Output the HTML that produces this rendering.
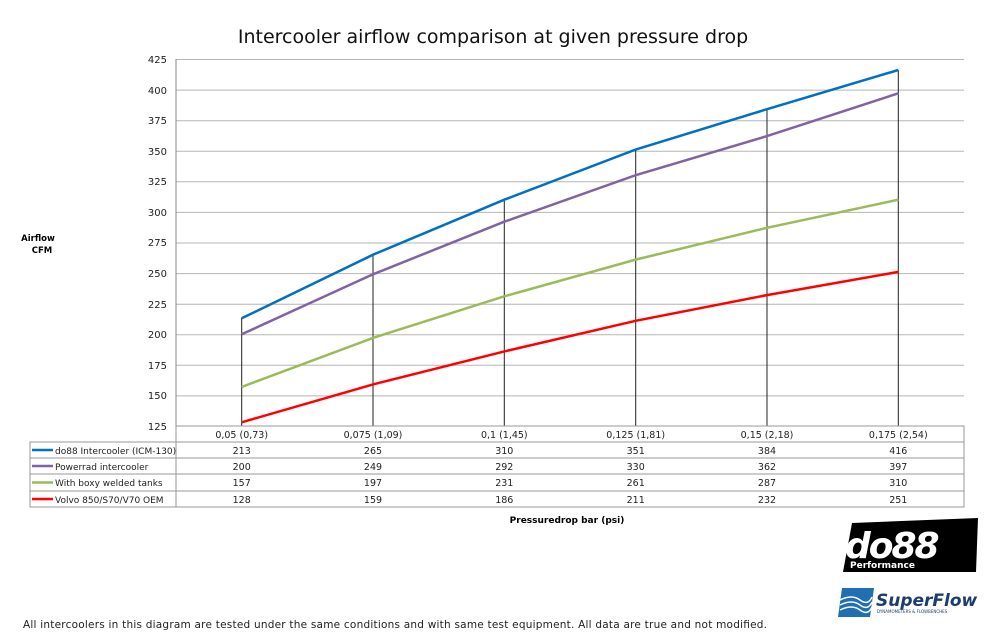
<!DOCTYPE html>
<html><head><meta charset="utf-8"><style>body{margin:0;background:#fff}svg{display:block}text{font-family:"DejaVu Sans","Liberation Sans",sans-serif}</style></head><body>
<svg width="1000" height="643" viewBox="0 0 1000 643" xmlns="http://www.w3.org/2000/svg">
<text x="493" y="43" font-size="19" text-anchor="middle" fill="#111">Intercooler airflow comparison at given pressure drop</text>
<g stroke="#b5b5b5" stroke-width="1">
<line x1="176" x2="964" y1="59.5" y2="59.5"/><line x1="176" x2="964" y1="90.1" y2="90.1"/><line x1="176" x2="964" y1="120.7" y2="120.7"/><line x1="176" x2="964" y1="151.2" y2="151.2"/><line x1="176" x2="964" y1="181.8" y2="181.8"/><line x1="176" x2="964" y1="212.4" y2="212.4"/><line x1="176" x2="964" y1="243" y2="243"/><line x1="176" x2="964" y1="273.6" y2="273.6"/><line x1="176" x2="964" y1="304.2" y2="304.2"/><line x1="176" x2="964" y1="334.7" y2="334.7"/><line x1="176" x2="964" y1="365.3" y2="365.3"/><line x1="176" x2="964" y1="395.9" y2="395.9"/>
</g>
<line x1="176" x2="176" y1="59" y2="426" stroke="#888"/>
<line x1="176" x2="964" y1="426" y2="426" stroke="#888"/>
<g font-size="10" text-anchor="end" fill="#222">
<text x="167" y="63">425</text><text x="167" y="94">400</text><text x="167" y="124">375</text><text x="167" y="155">350</text><text x="167" y="185">325</text><text x="167" y="216">300</text><text x="167" y="246">275</text><text x="167" y="277">250</text><text x="167" y="308">225</text><text x="167" y="338">200</text><text x="167" y="369">175</text><text x="167" y="399">150</text><text x="167" y="430">125</text>
</g>
<text x="38" y="241" font-size="8.5" font-weight="bold" text-anchor="middle">Airflow</text>
<text x="42" y="253" font-size="8.5" font-weight="bold" text-anchor="middle">CFM</text>
<g stroke="#222" stroke-width="1">
<line x1="241.7" x2="241.7" y1="318" y2="426"/><line x1="373" x2="373" y1="254" y2="426"/><line x1="504.3" x2="504.3" y1="199" y2="426"/><line x1="635.7" x2="635.7" y1="149" y2="426"/><line x1="767" x2="767" y1="109" y2="426"/><line x1="898.3" x2="898.3" y1="70" y2="426"/>
</g>
<g fill="none" stroke-width="2.5">
<polyline stroke="#0070c0" points="241.7,318.3 373,254.7 504.3,199.7 635.7,149.5 767,109.2 898.3,70"/>
<polyline stroke="#8064a2" points="241.7,334.3 373,274.3 504.3,221.7 635.7,175.2 767,136.1 898.3,93.3"/>
<polyline stroke="#9bbb59" points="241.7,386.9 373,337.9 504.3,296.3 635.7,259.6 767,227.8 898.3,199.7"/>
<polyline stroke="#ff0000" points="241.7,422.3 373,384.4 504.3,351.4 635.7,320.8 767,295.1 898.3,271.9"/>
</g>
<g stroke="#999" stroke-width="1" fill="none">
<rect x="176" y="426" width="788" height="81"/>
<rect x="30" y="442" width="146" height="65"/>
<line x1="30" x2="964" y1="458" y2="458"/><line x1="30" x2="964" y1="474" y2="474"/><line x1="30" x2="964" y1="491" y2="491"/><line x1="176" x2="964" y1="442" y2="442"/>
</g>
<g stroke-width="2.5">
<line x1="32" x2="53" y1="450" y2="450" stroke="#0070c0"/><line x1="32" x2="53" y1="466" y2="466" stroke="#8064a2"/><line x1="32" x2="53" y1="482.5" y2="482.5" stroke="#9bbb59"/><line x1="32" x2="53" y1="499" y2="499" stroke="#ff0000"/>
</g>
<g font-size="9" fill="#222">
<text x="55" y="454">do88 Intercooler (ICM-130)</text><text x="55" y="470">Powerrad intercooler</text><text x="55" y="486">With boxy welded tanks</text><text x="55" y="503">Volvo 850/S70/V70 OEM</text>
</g>
<g font-size="9.5" fill="#222" text-anchor="middle">
<text x="241.7" y="438">0,05 (0,73)</text><text x="373" y="438">0,075 (1,09)</text><text x="504.3" y="438">0,1 (1,45)</text><text x="635.7" y="438">0,125 (1,81)</text><text x="767" y="438">0,15 (2,18)</text><text x="898.3" y="438">0,175 (2,54)</text>
<text x="241.7" y="454">213</text><text x="373" y="454">265</text><text x="504.3" y="454">310</text><text x="635.7" y="454">351</text><text x="767" y="454">384</text><text x="898.3" y="454">416</text>
<text x="241.7" y="470">200</text><text x="373" y="470">249</text><text x="504.3" y="470">292</text><text x="635.7" y="470">330</text><text x="767" y="470">362</text><text x="898.3" y="470">397</text>
<text x="241.7" y="486">157</text><text x="373" y="486">197</text><text x="504.3" y="486">231</text><text x="635.7" y="486">261</text><text x="767" y="486">287</text><text x="898.3" y="486">310</text>
<text x="241.7" y="503">128</text><text x="373" y="503">159</text><text x="504.3" y="503">186</text><text x="635.7" y="503">211</text><text x="767" y="503">232</text><text x="898.3" y="503">251</text>
</g>
<text x="567" y="523" font-size="9" font-weight="bold" text-anchor="middle">Pressuredrop bar (psi)</text>
<polygon points="852,523 978,518 976,572 843,572" fill="#000"/>
<text x="845" y="558" font-size="36" font-weight="bold" font-style="italic" fill="#fff" font-family="Liberation Sans,sans-serif" letter-spacing="-2">do88</text>
<text x="850" y="568" font-size="9" font-weight="bold" fill="#fff" font-family="Liberation Sans,sans-serif">Performance</text>
<polygon points="842,588 874,588 870,617 838,617" fill="#1f6fb2"/>
<g stroke="#fff" stroke-width="1.5" fill="none"><path d="M840,600 q12,-6 20,0 t12,-3"/><path d="M840,605 q12,-6 20,0 t12,-3"/><path d="M840,610 q12,-6 20,0 t12,-3"/></g>
<text x="876" y="606" font-size="17" font-weight="bold" font-style="italic" fill="#1b3e6f" font-family="Liberation Sans,sans-serif">SuperFlow</text>
<text x="877" y="613" font-size="4" fill="#1b3e6f">DYNAMOMETERS &amp; FLOWBENCHES</text>
<text x="23" y="628" font-size="10.5" fill="#222" textLength="744">All intercoolers in this diagram are tested under the same conditions and with same test equipment. All data are true and not modified.</text>
</svg>
</body></html>
